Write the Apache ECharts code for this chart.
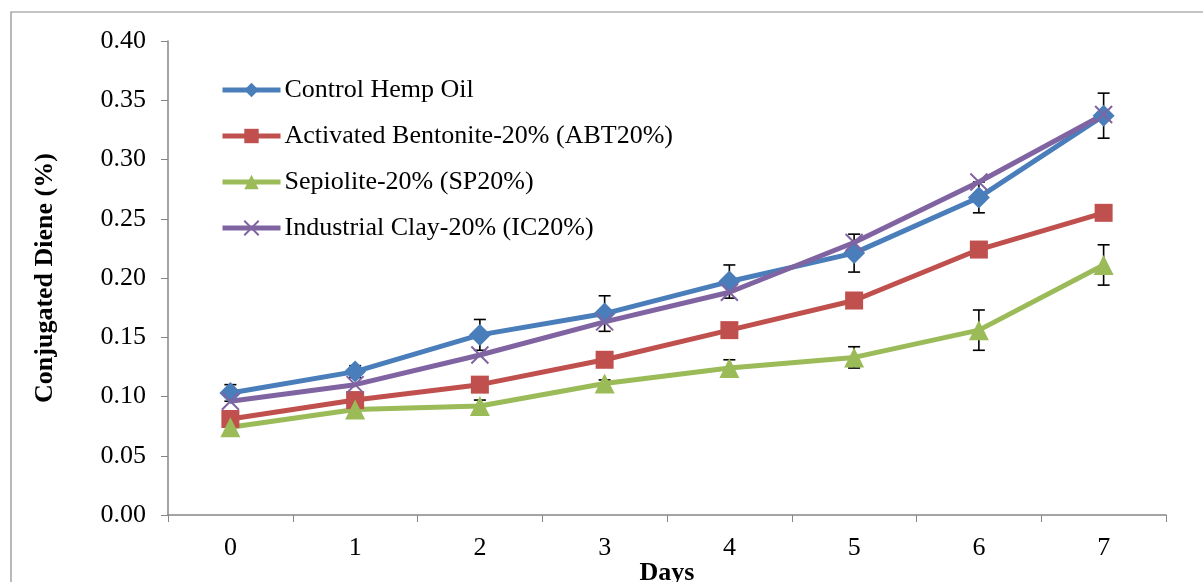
<!DOCTYPE html>
<html>
<head>
<meta charset="utf-8">
<script src="https://cdn.jsdelivr.net/npm/echarts@6/dist/echarts.min.js"></script>
<style>
  html, body { margin: 0; padding: 0; background: #fff; }
  #main { width: 1203px; height: 582px; }
</style>
</head>
<body>
<div id="main"></div>
<script>
// data
var days = ['0', '1', '2', '3', '4', '5', '6', '7'];
var controlHemp = [0.103, 0.121, 0.152, 0.170, 0.197, 0.221, 0.268, 0.337];
var abt20 = [0.081, 0.097, 0.110, 0.131, 0.156, 0.181, 0.224, 0.255];
var sp20 = [0.074, 0.089, 0.092, 0.111, 0.124, 0.133, 0.156, 0.211];
var ic20 = [0.096, 0.110, 0.135, 0.163, 0.188, 0.230, 0.281, 0.338];
var controlErr = [0.007, 0.005, 0.013, 0.015, 0.014, 0.016, 0.013, 0.019];
var sp20Err = [0.003, 0.003, 0.005, 0.003, 0.007, 0.009, 0.017, 0.017];

var serif = '"Liberation Serif", "DejaVu Serif", serif';
var myChart = echarts.init(document.getElementById('main'));

// error bar rows: [index, low, high]
function errRows(vals, errs) {
    return vals.map(function (v, i) { return [i, v - errs[i], v + errs[i]]; });
}

function renderErr(params, api) {
    var lo = api.coord([api.value(0), api.value(1)]);
    var hi = api.coord([api.value(0), api.value(2)]);
    var w = 6;
    var st = { stroke: '#000', lineWidth: 1.6 };
    return {
        type: 'group',
        children: [
            { type: 'line', shape: { x1: lo[0], y1: lo[1], x2: hi[0], y2: hi[1] }, style: st },
            { type: 'line', shape: { x1: lo[0] - w, y1: lo[1], x2: lo[0] + w, y2: lo[1] }, style: st },
            { type: 'line', shape: { x1: hi[0] - w, y1: hi[1], x2: hi[0] + w, y2: hi[1] }, style: st }
        ]
    };
}

function lineSeries(name, data, color, symbol, size, extra) {
    var s = {
        name: name,
        type: 'line',
        data: data,
        symbol: symbol,
        symbolSize: size,
        showAllSymbol: true,
        z: 3,
        lineStyle: { color: color, width: 5 },
        itemStyle: { color: color, opacity: 1 }
    };
    if (extra) Object.assign(s.itemStyle, extra);
    return s;
}

var option = {
    backgroundColor: '#fff',
    animation: false,
    grid: { left: 168, right: 37, top: 41, bottom: 67, outerBoundsMode: 'none', containLabel: false },
    graphic: [{
        type: 'rect',
        shape: { x: 11, y: 12, width: 1200, height: 580 },
        style: { fill: 'none', stroke: '#8a8a8a', lineWidth: 1.2 },
        silent: true
    }],
    legend: {
        orient: 'vertical',
        left: 215,
        top: 72,
        itemWidth: 58,
        itemHeight: 18,
        itemGap: 20,
        lineStyle: { width: 5 },
        textStyle: { fontFamily: serif, fontSize: 26, color: '#000', padding: [0, 0, 0, -1] },
        data: ['Control Hemp Oil', 'Activated Bentonite-20% (ABT20%)', 'Sepiolite-20% (SP20%)', 'Industrial Clay-20% (IC20%)']
    },
    xAxis: {
        type: 'category',
        data: days,
        boundaryGap: true,
        name: 'Days',
        nameLocation: 'middle',
        nameGap: 45,
        nameMoveOverlap: false,
        nameTextStyle: { fontFamily: serif, fontSize: 26, fontWeight: 'bold', color: '#000' },
        axisLine: { lineStyle: { color: '#868686', width: 1.5 } },
        axisTick: { show: true, length: 7, lineStyle: { color: '#868686' } },
        axisLabel: { fontFamily: serif, fontSize: 26, color: '#000', margin: 20 },
        splitLine: { show: false }
    },
    yAxis: {
        type: 'value',
        min: 0,
        max: 0.4,
        interval: 0.05,
        name: 'Conjugated Diene (%)',
        nameLocation: 'middle',
        nameGap: 110,
        nameMoveOverlap: false,
        nameTextStyle: { fontFamily: serif, fontSize: 26, fontWeight: 'bold', color: '#000' },
        axisLine: { show: true, lineStyle: { color: '#868686', width: 1.5 } },
        axisTick: { show: true, length: 7, lineStyle: { color: '#868686' } },
        axisLabel: {
            fontFamily: serif, fontSize: 26, color: '#000', margin: 22,
            formatter: function (v) { return v.toFixed(2); }
        },
        splitLine: { show: false }
    },
    series: [
        {
            name: 'errControl',
            type: 'custom',
            renderItem: renderErr,
            data: errRows(controlHemp, controlErr),
            encode: { x: 0, y: [1, 2] },
            z: 2,
            silent: true
        },
        {
            name: 'errSP',
            type: 'custom',
            renderItem: renderErr,
            data: errRows(sp20, sp20Err),
            encode: { x: 0, y: [1, 2] },
            z: 2,
            silent: true
        },
        lineSeries('Control Hemp Oil', controlHemp, '#4A7EBB', 'diamond', 22),
        lineSeries('Activated Bentonite-20% (ABT20%)', abt20, '#C0504D', 'rect', 18),
        lineSeries('Sepiolite-20% (SP20%)', sp20, '#9BBB59', 'triangle', 20),
        lineSeries('Industrial Clay-20% (IC20%)', ic20, '#8064A2', 'path://M0,0 L10,10 M10,0 L0,10', 17,
            { borderColor: '#8064A2', borderWidth: 2 })
    ]
};

myChart.setOption(option);
</script>
</body>
</html>
